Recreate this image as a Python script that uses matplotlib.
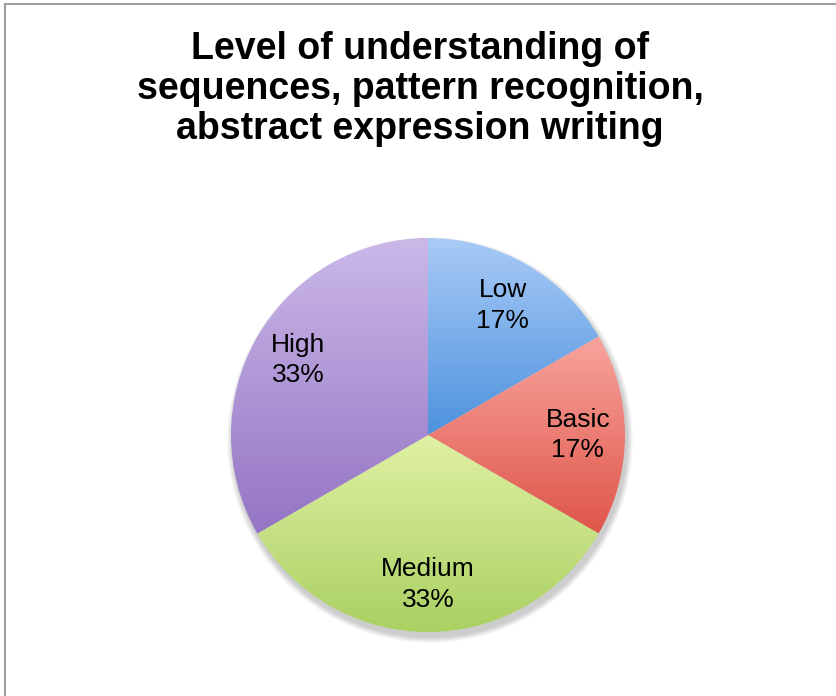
import numpy as np
import matplotlib
matplotlib.use("Agg")
import matplotlib.pyplot as plt
from matplotlib.colors import LinearSegmentedColormap
from matplotlib.patches import Circle

plt.rcParams['font.family'] = ['Liberation Sans', 'DejaVu Sans']

# data
categories = ['Low', 'Basic', 'Medium', 'High']
counts = [1, 1, 2, 2]
# (top colour, bottom colour) of each slice gradient
top_colors = ['#a9cbf6', '#f8a49d', '#e0f1a4', '#cbb8e8']
bottom_colors = ['#4d92de', '#df5549', '#aad062', '#9474c4']
title = 'Level of understanding of\nsequences, pattern recognition,\nabstract expression writing'

W, H = 837, 696
fig = plt.figure(figsize=(W / 100, H / 100), dpi=100)
ax = fig.add_axes([0, 0, 1, 1])

cx, cy, r = 428, H - 435, 197

# soft drop shadow
for k in range(10, 0, -1):
    ax.add_patch(Circle((cx + 2, cy - 5), r + k * 0.6, color='k',
                        alpha=0.02, lw=0, zorder=1))

total = sum(counts)
labels = ['%s\n%d%%' % (c, round(v * 100 / total)) for c, v in zip(categories, counts)]
wedges, texts = ax.pie(counts, labels=labels, startangle=90, counterclock=False,
                       center=(cx, cy), radius=r, labeldistance=0.76,
                       textprops=dict(fontsize=19, ha='center', va='center',
                                      linespacing=1.35),
                       wedgeprops=dict(lw=0), frame=True)

grad = np.linspace(0, 1, 256).reshape(-1, 1)
for w, c0, c1 in zip(wedges, top_colors, bottom_colors):
    w.set_facecolor('none')
    v = w.get_path().vertices
    x0, x1 = v[:, 0].min(), v[:, 0].max()
    y0, y1 = v[:, 1].min(), v[:, 1].max()
    cmap = LinearSegmentedColormap.from_list('g', [c1, c0])
    im = ax.imshow(grad, cmap=cmap, extent=[x0, x1, y0, y1], origin='lower',
                   aspect='auto', zorder=2, interpolation='bilinear')
    im.set_clip_path(w)
for t in texts:
    t.set_zorder(5)

ax.set_xlim(0, W)
ax.set_ylim(0, H)
ax.set_aspect('equal')
ax.axis('off')

fig.text(420 / W, 1 - 89 / H, title, ha='center', va='center', fontsize=27,
         fontweight='bold', linespacing=1.16)

# frame lines (left and top)
fig.add_artist(plt.Line2D([5 / W, 5 / W], [0, 1 - 4 / H], color='#a0a0a0', lw=1.5))
fig.add_artist(plt.Line2D([5 / W, 1], [1 - 4 / H, 1 - 4 / H], color='#a0a0a0', lw=1.5))

fig.savefig('out.png', dpi=100)
